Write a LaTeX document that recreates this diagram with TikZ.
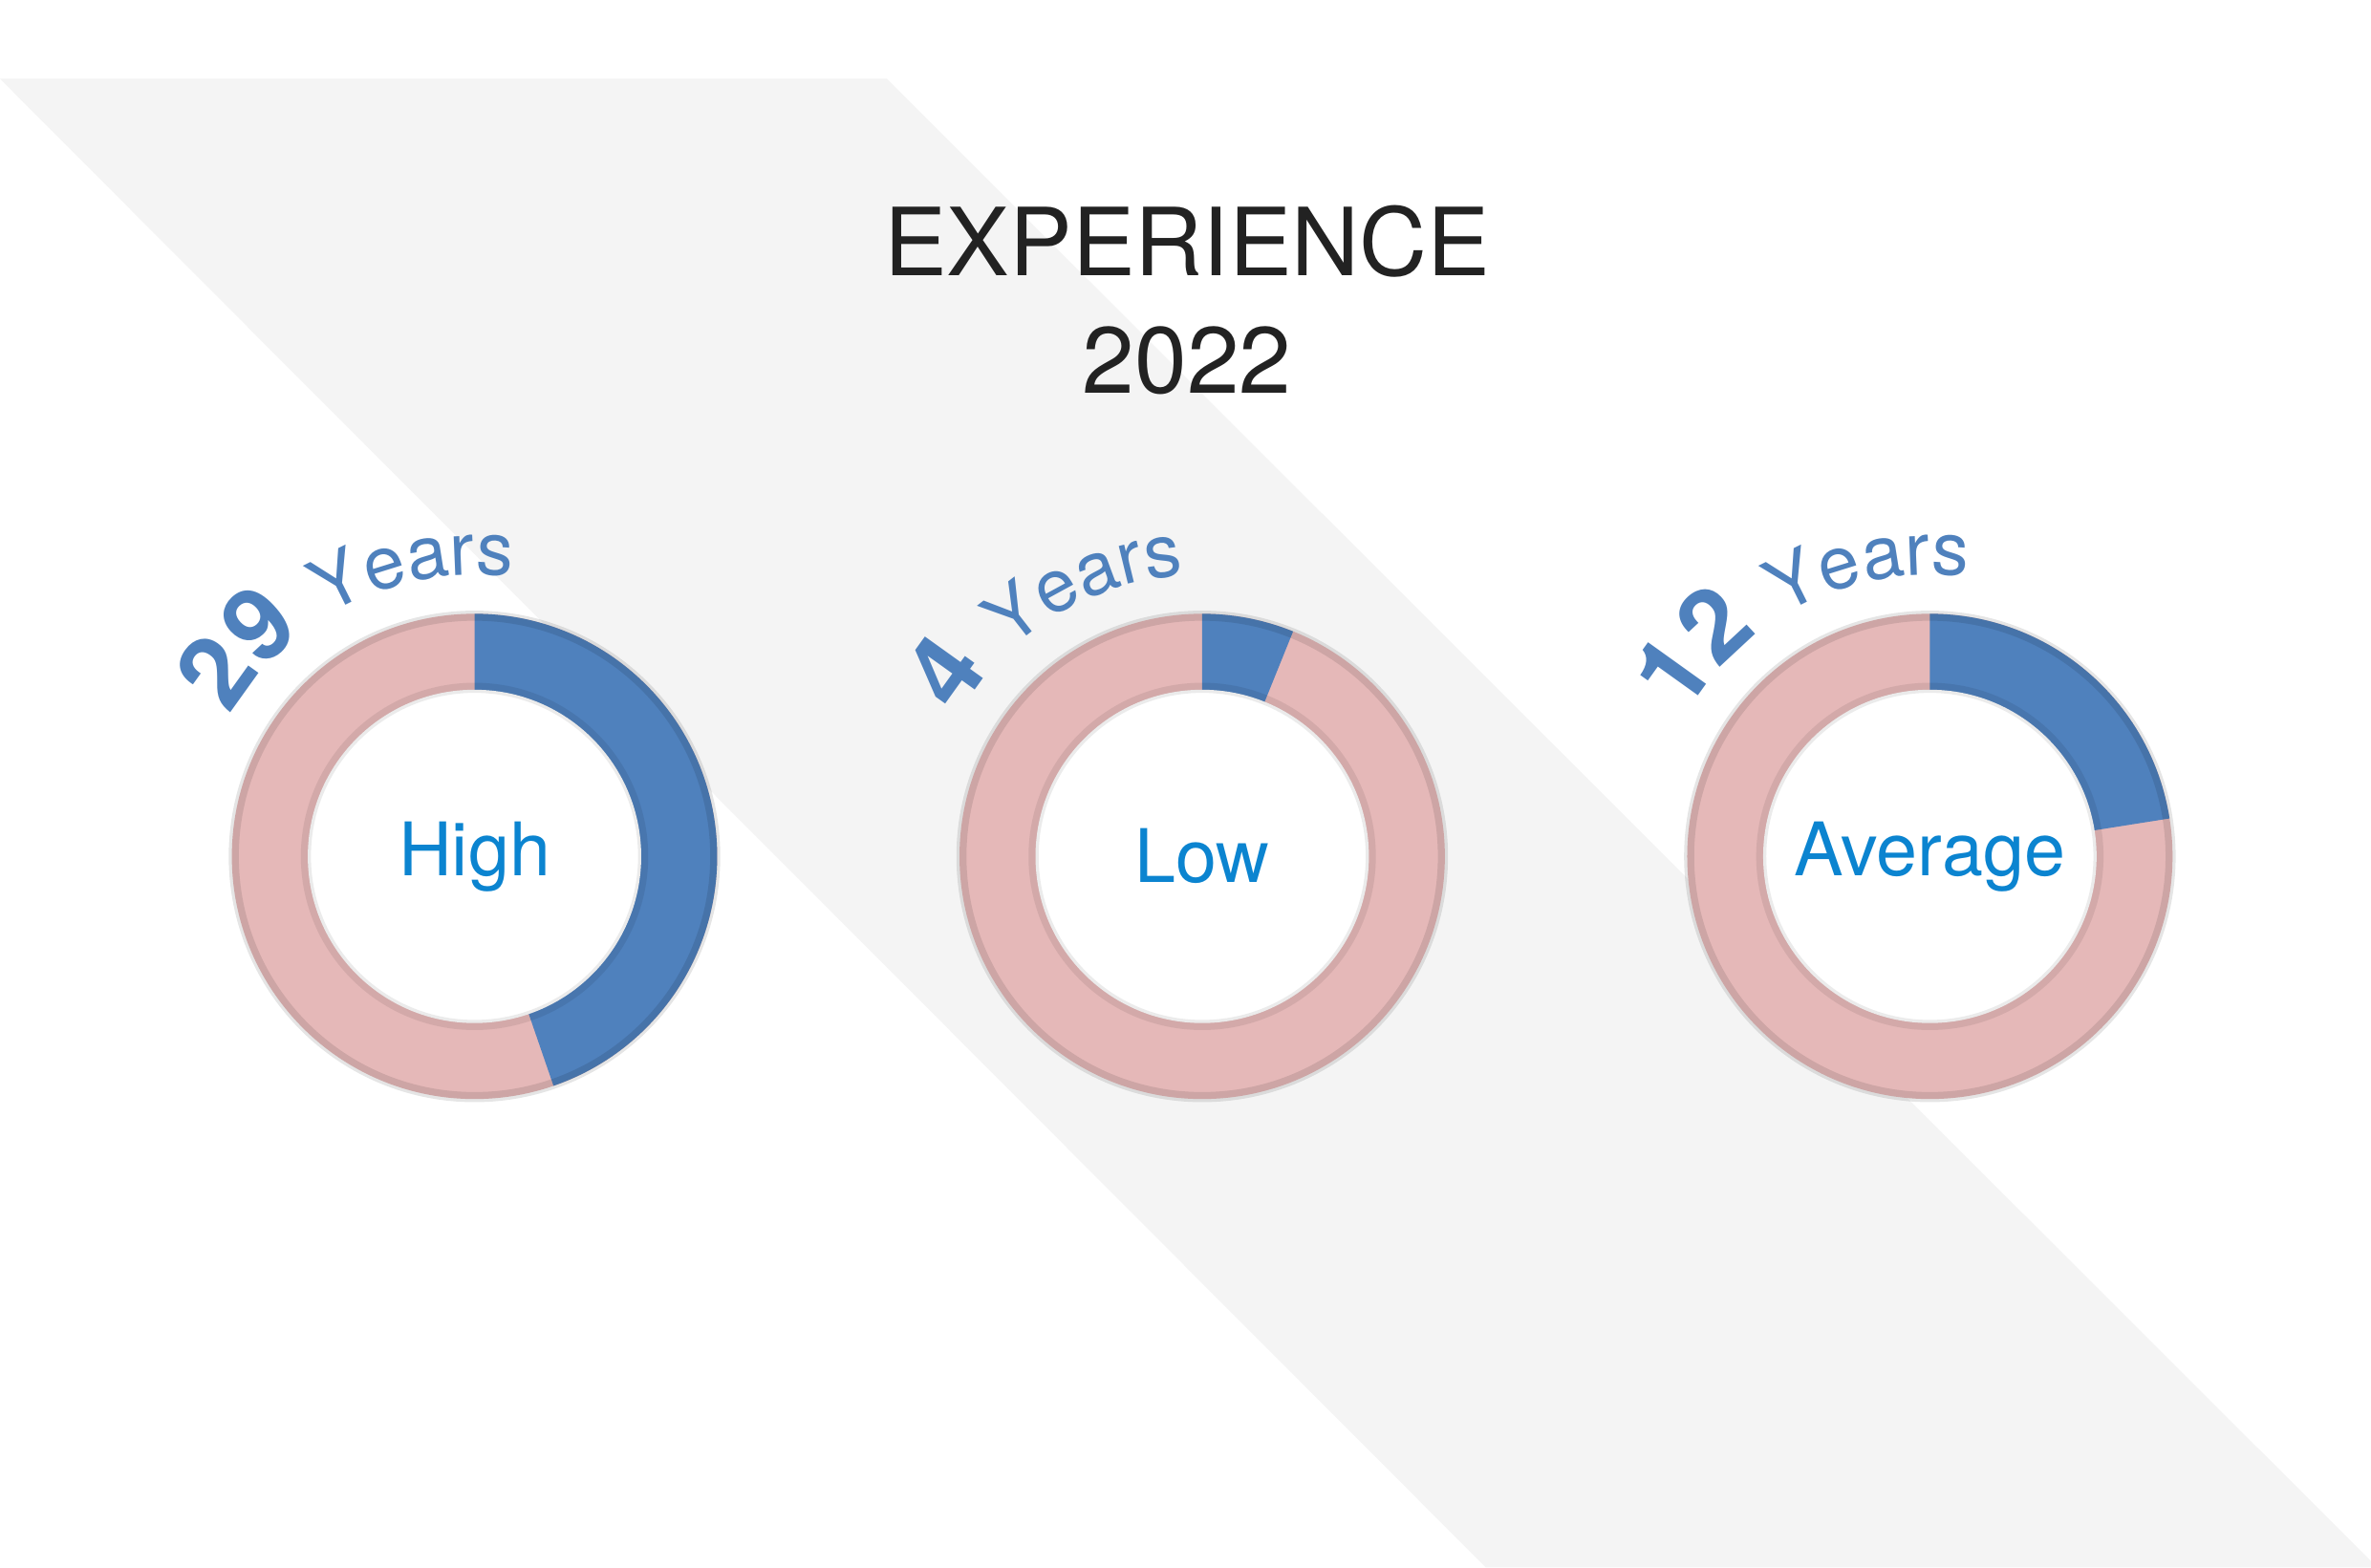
\documentclass[tikz,border=0pt]{standalone}
\usepackage{fontspec}
\setmainfont{TeX Gyre Heros}
\usetikzlibrary{calc, positioning, decorations.text}
\definecolor{bandgray}{HTML}{F4F4F4}
\definecolor{ringpink}{HTML}{E5B8B8}
\definecolor{ringblue}{HTML}{4F81BD}
\definecolor{labelblue}{HTML}{0B84D0}
\definecolor{titlegray}{HTML}{222222}
\tikzset{
  ringlabel/.style={text=labelblue, font=\fontsize{22}{22}\selectfont},
  titletext/.style={text=titlegray, font=\fontsize{28}{35}\selectfont, align=center}
}
\begin{document}
\begin{tikzpicture}[x=0.015864cm, y=-0.015864cm]
  \useasboundingbox (0,0) rectangle (1564,1034);
  \fill[white] (0,0) rectangle (1564,1034);
  % diagonal band
  \fill[bandgray] (0,52) -- (585,52) -- (1564,1030) -- (1564,1034) -- (980,1034) -- cycle;

  \node[titletext] (title) at (783,198) {EXPERIENCE\\2022};

  % donuts
  \foreach \cx/\ang/\lab/\num in {313/-71/High/29, 793/68/Low/4, 1273/9/Average/12} {
    \coordinate (c\lab) at (\cx,565);
    \fill[ringpink] (c\lab) circle (2.54cm);
    \fill[ringblue] (c\lab) -- ++(90:2.54cm) arc[start angle=90, end angle=\ang, radius=2.54cm] -- cycle;
    \draw[black, opacity=0.1, line width=3pt] (c\lab) circle (2.52cm);
    \fill[white] (c\lab) circle (1.745cm);
    \draw[black, opacity=0.08, line width=3pt] (c\lab) circle (1.765cm);
    \node[ringlabel] (l\lab) at (c\lab) {\lab};
    \path[decorate, decoration={text along path, text align=left,
        text={|\color{ringblue}\bfseries\fontsize{30}{30}\selectfont|\num{} |\color{ringblue}\fontsize{22}{22}\selectfont|Years}}]
      ($(c\lab)+(150:2.95cm)$) arc[start angle=150, end angle=30, radius=2.95cm];
  }
\end{tikzpicture}
\end{document}
